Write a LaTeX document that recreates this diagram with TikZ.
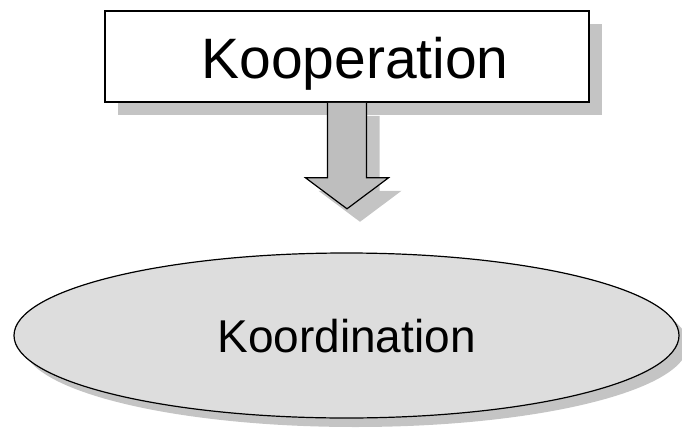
\documentclass[tikz,border=0pt]{standalone}
\usepackage{fontspec}
\setmainfont{Liberation Sans}
\usetikzlibrary{positioning,shapes.geometric,shadows,calc}
\definecolor{shadowgray}{HTML}{C4C4C4}
\definecolor{arrowgray}{HTML}{BEBEBE}
\definecolor{ovalgray}{HTML}{DDDDDD}

\begin{document}
\begin{tikzpicture}[x=1pt,y=-1pt,
  boxshadow/.style={drop shadow={shadow xshift=13pt,shadow yshift=-13pt,fill=shadowgray,opacity=1}},
  ovalshadow/.style={drop shadow={shadow xshift=9pt,shadow yshift=-9pt,fill=shadowgray,opacity=1}},
  topbox/.style={draw,line width=1.6pt,fill=white,rectangle,minimum width=484pt,minimum height=91pt,
    inner sep=0pt,text height=43pt,text depth=0pt,font=\fontsize{57}{60}\selectfont,boxshadow},
  oval/.style={draw,line width=1.2pt,fill=ovalgray,ellipse,minimum width=665pt,minimum height=165pt,
    inner sep=0pt,text height=33pt,text depth=0pt,font=\fontsize{46}{50}\selectfont,ovalshadow},
  blockarrow/.style={draw,line width=1.2pt,fill=arrowgray,line join=miter,boxshadow}]
\useasboundingbox (0,0) rectangle (682,428);

% Kooperation box
\node[topbox] (koop) at (347,56.5) {\hspace*{16pt}Kooperation};

% Koordination oval
\node[oval] (koord) at (346.5,335.5) {Koordination};

% block arrow between them
\coordinate (tip) at ($(koop.south)+(0,106)$);
\draw[blockarrow] ($(koop.south)+(-19.5,0)$) -- ($(tip)+(-19.5,-31)$) -- ($(tip)+(-41.5,-31)$)
  -- (tip) -- ($(tip)+(41.5,-31)$) -- ($(tip)+(19.5,-31)$) -- ($(koop.south)+(19.5,0)$);
\end{tikzpicture}
\end{document}
